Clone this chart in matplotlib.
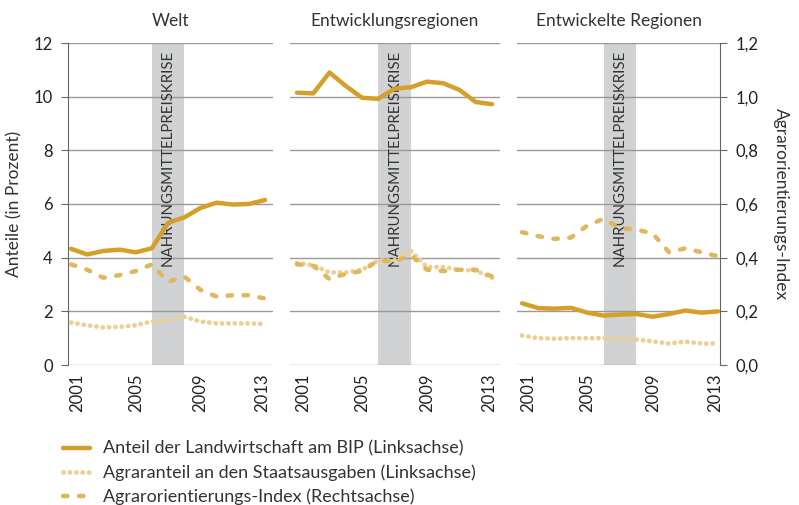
import matplotlib.pyplot as plt
from matplotlib.transforms import ScaledTranslation

plt.rcParams['font.family'] = ['Lato', 'DejaVu Sans']

years = list(range(2001, 2014))
titles = ["Welt", "Entwicklungsregionen", "Entwickelte Regionen"]

# Anteil der Landwirtschaft am BIP (%)
bip = [
    [4.33, 4.12, 4.25, 4.3, 4.2, 4.35, 5.3, 5.5, 5.85, 6.05, 5.98, 6.0, 6.15],
    [10.15, 10.12, 10.9, 10.4, 9.96, 9.92, 10.3, 10.35, 10.56, 10.5, 10.25, 9.8, 9.72],
    [2.3, 2.12, 2.1, 2.13, 1.95, 1.84, 1.88, 1.9, 1.8, 1.9, 2.03, 1.95, 2.0],
]
# Agraranteil an den Staatsausgaben (%)
ausgaben = [
    [1.58, 1.48, 1.4, 1.42, 1.48, 1.62, 1.66, 1.8, 1.62, 1.55, 1.55, 1.55, 1.53],
    [3.8, 3.72, 3.45, 3.45, 3.55, 3.9, 3.9, 4.25, 3.65, 3.65, 3.55, 3.52, 3.25],
    [1.1, 1.0, 0.98, 1.0, 1.0, 1.0, 0.95, 0.95, 0.88, 0.8, 0.87, 0.8, 0.8],
]
# Agrarorientierungs-Index
index = [
    [0.375, 0.355, 0.325, 0.335, 0.35, 0.375, 0.31, 0.33, 0.28, 0.255, 0.26, 0.26, 0.248],
    [0.375, 0.37, 0.32, 0.34, 0.35, 0.39, 0.385, 0.41, 0.355, 0.35, 0.355, 0.355, 0.33],
    [0.495, 0.48, 0.47, 0.475, 0.52, 0.545, 0.51, 0.505, 0.49, 0.42, 0.435, 0.42, 0.405],
]

krise = (2006, 2008)

c_bip = '#D4A02A'
c_idx = '#E2B65A'
c_aus = '#ECCF93'
grid_c = '#9A9A9A'

fig = plt.figure(figsize=(7.99, 5.05), dpi=100)

rects = [(68, 273), (290, 500), (517, 720)]
xlims = [(2000.81, 2013.49), (2000.57, 2013.49), (2000.69, 2013.12)]
top, bottom = 43, 365
W, H = 799, 505

lines = []
for i in range(3):
    l, r = rects[i]
    ax = fig.add_axes([l / W, 1 - bottom / H, (r - l) / W, (bottom - top) / H])
    ax.set_xlim(*xlims[i])
    ax.set_ylim(0, 12)
    ax.axvspan(krise[0], krise[1], color='#D1D2D4', lw=0, zorder=0)
    for yv in range(0, 13, 2):
        ax.axhline(yv, color=grid_c, lw=1, zorder=1)
    ax.text(2007, 11.75, "NAHRUNGSMITTELPREISKRISE", rotation=90, ha='center', va='top',
            fontsize=10.8, color='#333333', zorder=2)

    ax2 = ax.twinx()
    ax2.set_ylim(0, 1.2)
    h3, = ax2.plot(years, index[i], color=c_idx, lw=3.2, ls=(0, (1.0, 2.6)),
                   dash_capstyle='round', zorder=3)
    h2, = ax.plot(years, ausgaben[i], color=c_aus, lw=3.4, ls=(0, (0.05, 1.3)),
                  dash_capstyle='round', zorder=3)
    h1, = ax.plot(years, bip[i], color=c_bip, lw=3.2, solid_capstyle='round',
                  solid_joinstyle='round', zorder=4)
    lines = [h1, h2, h3]

    ax.set_xticks([2001, 2005, 2009, 2013])
    ax.set_xticklabels(['2001', '2005', '2009', '2013'], rotation=90, fontsize=12,
                       color='#222222')
    ax.tick_params(axis='x', length=0, pad=6)
    tl = ax.get_xticklabels()
    tl[0].set_transform(tl[0].get_transform() + ScaledTranslation(6 / 100, 0, fig.dpi_scale_trans))
    tl[-1].set_transform(tl[-1].get_transform() + ScaledTranslation(-3 / 100, 0, fig.dpi_scale_trans))
    for s in ['top', 'right', 'bottom']:
        ax.spines[s].set_visible(False)
        ax2.spines[s].set_visible(False)
    ax2.spines['left'].set_visible(False)
    ax.set_title(titles[i], fontsize=12.5, color='#333333', pad=12)

    if i == 0:
        ax.spines['left'].set_color('#666666')
        ax.set_yticks(range(0, 13, 2))
        ax.tick_params(axis='y', length=5, color='#666666', labelsize=12,
                       labelcolor='#222222', pad=6)
        ax.set_ylabel("Anteile (in Prozent)", fontsize=12.5, color='#333333', labelpad=8)
    else:
        ax.spines['left'].set_visible(False)
        ax.set_yticks([])
    if i == 2:
        ax2.spines['right'].set_visible(True)
        ax2.spines['right'].set_color('#666666')
        ax2.set_yticks([0, 0.2, 0.4, 0.6, 0.8, 1.0, 1.2])
        ax2.set_yticklabels(['0,0', '0,2', '0,4', '0,6', '0,8', '1,0', '1,2'])
        ax2.tick_params(axis='y', length=5, color='#666666', labelsize=12,
                        labelcolor='#222222', pad=6)
        ax2.set_ylabel("Agrarorientierungs-Index", fontsize=12.5, color='#333333',
                       rotation=270, labelpad=22)
    else:
        ax2.set_yticks([])

labels = ["Anteil der Landwirtschaft am BIP (Linksachse)",
          "Agraranteil an den Staatsausgaben (Linksachse)",
          "Agrarorientierungs-Index (Rechtsachse)"]
fig.legend(lines, labels, loc='upper left', bbox_to_anchor=(0.068, 0.145),
           frameon=False, fontsize=13, handlelength=1.5, labelspacing=0.42,
           handletextpad=0.7, borderpad=0, labelcolor='#333333')

fig.savefig('out.png', dpi=100)
